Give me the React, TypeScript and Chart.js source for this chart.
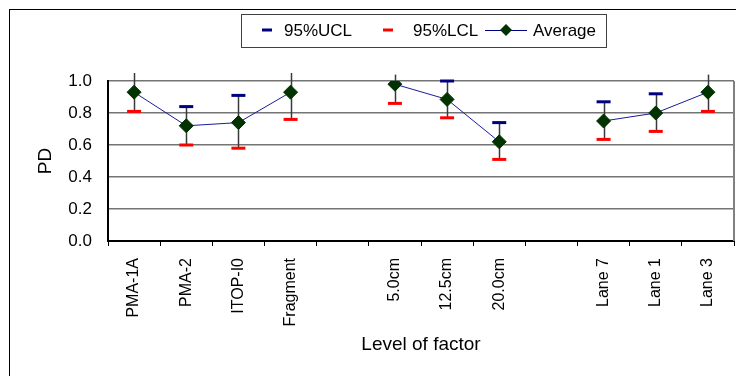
import React, { useEffect, useRef } from 'react';
import { Chart, registerables } from 'chart.js';
Chart.register(...registerables);

const categories = ['PMA-1A', 'PMA-2', 'ITOP-I0', 'Fragment', '', '5.0cm', '12.5cm', '20.0cm', '', 'Lane 7', 'Lane 1', 'Lane 3'];
const average = [0.93, 0.72, 0.74, 0.93, null, 0.98, 0.885, 0.62, null, 0.75, 0.8, 0.93];
const ucl = [1.05, 0.84, 0.91, 1.05, null, 1.04, 1.0, 0.74, null, 0.87, 0.92, 1.04];
const lcl = [0.81, 0.6, 0.58, 0.76, null, 0.86, 0.77, 0.51, null, 0.635, 0.685, 0.81];
const yTicks = [0, 0.2, 0.4, 0.6, 0.8, 1.0];

const FONT = "'Liberation Sans', Arial, sans-serif";

export default function App() {
  const ref = useRef<HTMLCanvasElement>(null);
  useEffect(() => {
    if (!ref.current) return;

    const frame = {
      id: 'frame',
      beforeDraw(chart: any) {
        const { ctx } = chart;
        ctx.save();
        ctx.fillStyle = '#fff';
        ctx.fillRect(0, 0, chart.width, chart.height);
        ctx.strokeStyle = '#000';
        ctx.lineWidth = 1;
        ctx.strokeRect(1.5, 1.5, chart.width + 20, chart.height + 20);
        ctx.restore();
      },
    };

    const whiskers = {
      id: 'whiskers',
      beforeDatasetsDraw(chart: any) {
        const { ctx, chartArea } = chart;
        const xs = chart.scales.x;
        const ys = chart.scales.y;
        ctx.save();
        ctx.strokeStyle = '#808080';
        ctx.lineWidth = 2;
        ctx.beginPath();
        ctx.moveTo(chartArea.right, chartArea.top);
        ctx.lineTo(chartArea.right, chartArea.bottom);
        ctx.stroke();
        ctx.strokeStyle = '#3a3a3a';
        ctx.lineWidth = 1.5;
        categories.forEach((_, i) => {
          const u = ucl[i];
          const l = lcl[i];
          if (u == null || l == null) return;
          const px = Math.round(xs.getPixelForValue(i)) + 0.5;
          ctx.beginPath();
          ctx.moveTo(px, ys.getPixelForValue(u));
          ctx.lineTo(px, ys.getPixelForValue(l));
          ctx.stroke();
        });
        ctx.restore();
      },
    };

    const legendBox = {
      id: 'legendBox',
      afterDraw(chart: any) {
        const { ctx } = chart;
        ctx.save();
        ctx.strokeStyle = '#404040';
        ctx.lineWidth = 1;
        ctx.strokeRect(233.5, 6.5, 365, 33);
        const cy = 22;
        ctx.lineWidth = 3;
        ctx.strokeStyle = '#000080';
        ctx.beginPath();
        ctx.moveTo(254, cy);
        ctx.lineTo(264, cy);
        ctx.stroke();
        ctx.strokeStyle = '#ff0000';
        ctx.beginPath();
        ctx.moveTo(375, cy);
        ctx.lineTo(385, cy);
        ctx.stroke();
        ctx.lineWidth = 1;
        ctx.strokeStyle = '#000080';
        ctx.beginPath();
        ctx.moveTo(477, cy + 0.5);
        ctx.lineTo(519, cy + 0.5);
        ctx.stroke();
        ctx.fillStyle = '#003300';
        ctx.beginPath();
        ctx.moveTo(498, cy - 6);
        ctx.lineTo(504, cy);
        ctx.lineTo(498, cy + 6);
        ctx.lineTo(492, cy);
        ctx.closePath();
        ctx.fill();
        ctx.fillStyle = '#000';
        ctx.font = `17px ${FONT}`;
        ctx.textBaseline = 'middle';
        ctx.textAlign = 'left';
        ctx.fillText('95%UCL', 276, cy + 1);
        ctx.fillText('95%LCL', 405, cy + 1);
        ctx.fillText('Average', 525, cy + 1);
        ctx.restore();
      },
    };

    const chart = new Chart(ref.current, {
      type: 'line',
      data: {
        labels: categories,
        datasets: [
          {
            label: 'Average',
            data: average,
            borderColor: '#1c1c99',
            borderWidth: 1,
            backgroundColor: '#003300',
            pointStyle: 'rectRot',
            pointRadius: 7,
            pointBackgroundColor: '#003300',
            pointBorderColor: '#003300',
            pointBorderWidth: 1,
            spanGaps: false,
            tension: 0,
          },
          {
            label: '95%UCL',
            data: ucl,
            showLine: false,
            borderColor: '#000080',
            borderWidth: 3,
            pointStyle: 'line',
            pointRadius: 7,
            pointBorderColor: '#000080',
            pointBorderWidth: 3,
            clip: { left: 0, right: 0, top: 2, bottom: 0 } as any,
          },
          {
            label: '95%LCL',
            data: lcl,
            showLine: false,
            borderColor: '#ff0000',
            borderWidth: 3,
            pointStyle: 'line',
            pointRadius: 7,
            pointBorderColor: '#ff0000',
            pointBorderWidth: 3,
            clip: { left: 0, right: 0, top: 2, bottom: 0 } as any,
          },
        ],
      },
      options: {
        responsive: false,
        animation: false,
        layout: { padding: { top: 73, right: 4, left: 0, bottom: 0 } },
        plugins: {
          legend: { display: false },
          tooltip: { enabled: false },
        },
        scales: {
          x: {
            type: 'category',
            offset: true,
            grid: {
              display: true,
              drawOnChartArea: false,
              drawTicks: true,
              tickLength: 5,
              offset: true,
              color: '#000',
              lineWidth: 1,
            },
            border: { color: '#000', width: 2 },
            ticks: {
              autoSkip: false,
              maxRotation: 90,
              minRotation: 90,
              padding: 12,
              color: '#000',
              font: { family: FONT, size: 16 },
            },
            title: {
              display: true,
              text: 'Level of factor',
              color: '#000',
              font: { family: FONT, size: 19 },
              padding: { top: 0, bottom: 20 },
            },
            afterFit(scale: any) {
              scale.height = 135;
            },
          },
          y: {
            min: 0,
            max: 1,
            afterBuildTicks(scale: any) {
              scale.ticks = yTicks.map((v) => ({ value: v }));
            },
            grid: {
              color: '#747474',
              lineWidth: 1.6,
              drawTicks: false,
            },
            border: { color: '#000', width: 2 },
            ticks: {
              padding: 16,
              color: '#000',
              font: { family: FONT, size: 17 },
              callback: (v: any) => Number(v).toFixed(1),
            },
            title: {
              display: true,
              text: 'PD',
              color: '#000',
              font: { family: FONT, size: 19 },
              padding: { top: 26, bottom: 0 },
            },
            afterFit(scale: any) {
              scale.width = 100;
            },
          },
        },
      },
      plugins: [frame, whiskers, legendBox],
    });
    return () => chart.destroy();
  }, []);
  return <canvas ref={ref} width={736} height={368} style={{ display: 'block' }} />;
}
